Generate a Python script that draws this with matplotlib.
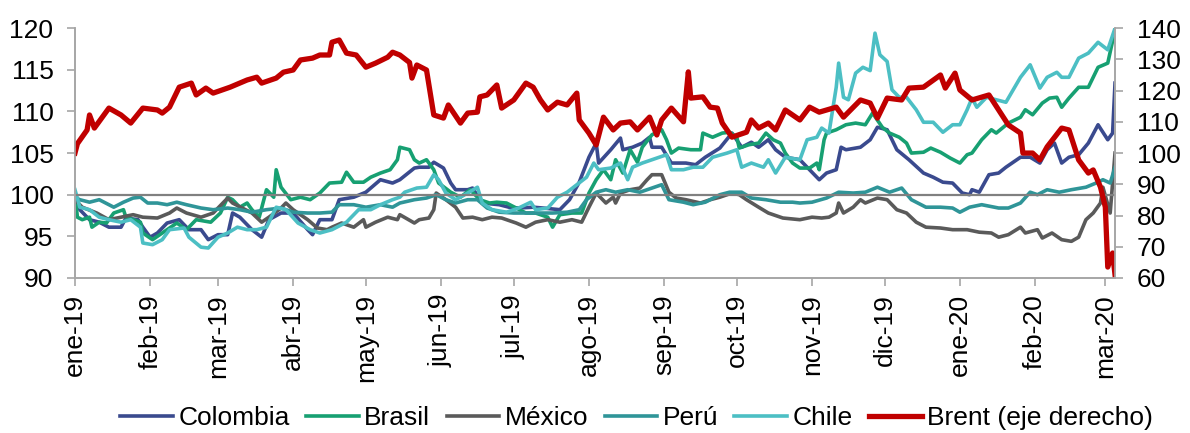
import matplotlib
matplotlib.use("Agg")
import matplotlib.pyplot as plt
import pandas as pd

plt.rcParams["font.family"] = ["Liberation Sans", "DejaVu Sans"]
plt.rcParams["font.size"] = 19

# ----------------------------------------------------------------------
# Data (x = days since 1 Jan 2019).
# Left axis: currencies indexed to 100; right axis: Brent indexed to 100.
# ----------------------------------------------------------------------
START = pd.Timestamp("2019-01-01")

tick_labels = ["ene-19", "feb-19", "mar-19", "abr-19", "may-19", "jun-19", "jul-19",
               "ago-19", "sep-19", "oct-19", "nov-19", "dic-19", "ene-20", "feb-20", "mar-20"]

colombia_d = [0, 2, 6, 10, 14, 19, 21, 26, 28, 31, 34, 38, 43, 47, 52, 55, 59, 63, 65, 68, 73, 77,
              80, 85, 90, 96, 98, 101, 106, 109, 115, 120, 126, 131, 134, 140, 142, 146, 148, 152,
              155, 157, 162, 164, 168, 175, 179, 183, 189, 193, 200, 204, 208, 212, 215, 216, 221,
              225, 226, 230, 234, 237, 238, 242, 246, 252, 256, 260, 266, 271, 275, 279, 282, 286,
              289, 293, 299, 302, 306, 307, 310, 314, 316, 318, 324, 328, 331, 335, 339, 344, 350,
              354, 358, 362, 366, 369, 370, 373, 377, 381, 384, 390, 394, 398, 401, 404, 407, 410,
              414, 418, 422, 426, 428, 429]
colombia = [100, 98.2, 97, 96.7, 96.1, 96.1, 97.2, 97, 96.1, 94.9, 95.4, 96.6, 97, 95.8, 95.8, 94.6,
            95.2, 95.2, 97.8, 97.3, 95.8, 94.9, 97, 97.8, 97.8, 95.8, 95.2, 97, 97, 99.4, 99.7,
            100.3, 101.8, 101.4, 101.8, 103.2, 103.3, 103.3, 103.9, 103.2, 101.4, 100.6, 100.6,
            100.8, 99, 98.8, 98.5, 98.4, 98.5, 98.4, 98.2, 99.4, 101.5, 104.5, 106.2, 103.8, 105.4,
            106.8, 105.4, 105.7, 106.2, 106.9, 105.7, 105.7, 103.8, 103.8, 103.6, 104.5, 105.6,
            107.4, 105.7, 106.3, 105.7, 106.6, 105.4, 104.5, 104.2, 103.3, 102.1, 101.8, 102.6,
            103, 105.7, 105.4, 105.7, 106.6, 108.1, 107.8, 105.4, 104.2, 102.6, 102.1, 101.5,
            101.4, 100.2, 100, 100.6, 100.3, 102.4, 102.6, 103.3, 104.5, 104.5, 103.8, 105.4,
            106.2, 103.8, 104.5, 104.8, 106.2, 108.4, 106.6, 107.4, 113.4]

brasil_d = [0, 1, 3, 6, 7, 10, 13, 16, 20, 21, 27, 28, 32, 36, 42, 46, 50, 56, 60, 63, 65, 68, 71,
            73, 76, 79, 82, 83, 85, 89, 93, 97, 101, 105, 110, 112, 115, 119, 122, 126, 130, 133,
            134, 138, 140, 142, 145, 148, 150, 155, 159, 163, 167, 171, 174, 178, 182, 186, 190,
            195, 197, 200, 205, 209, 212, 215, 218, 221, 223, 226, 229, 232, 234, 238, 242, 244,
            246, 249, 254, 258, 259, 263, 267, 270, 273, 274, 278, 282, 285, 288, 291, 293, 296,
            299, 303, 306, 307, 309, 310, 314, 318, 322, 326, 329, 333, 336, 340, 343, 345, 350,
            353, 357, 361, 365, 368, 370, 374, 378, 380, 385, 390, 392, 395, 399, 402, 405, 407,
            410, 414, 418, 422, 426, 429]
brasil = [100, 97.3, 97, 97.3, 96.1, 96.7, 96.6, 97.8, 98.2, 97.3, 96.7, 95.4, 94.6, 95.4, 96.6,
          95.8, 97, 96.7, 97.8, 99.7, 99.4, 98.5, 99, 98.2, 97.3, 100.6, 99.7, 103, 100.9, 99.4,
          99.7, 99.4, 100.2, 101.4, 101.5, 102.7, 101.5, 101.5, 102.1, 102.6, 103, 104.2, 105.7,
          105.4, 104.2, 103.8, 104.2, 103, 101.4, 100.3, 99.7, 100.6, 99.4, 99, 99.1, 99, 98.4,
          97.8, 97.8, 97.3, 96.1, 97.6, 97.8, 97.8, 100.2, 101.8, 103, 101.8, 104.2, 102.6, 105.4,
          103.9, 105.7, 107.2, 107.8, 106.6, 105, 105.6, 105.4, 105.4, 107.4, 106.9, 107.4, 107.5,
          106.9, 105.6, 106, 106.2, 107.4, 106.6, 106.2, 105, 103.8, 103.2, 103.2, 103.8, 103,
          106.6, 107.4, 107.8, 108.4, 108.6, 108.4, 109.8, 108.1, 107.4, 106.9, 106.2, 105, 105.1,
          105.6, 105.1, 104.4, 103.8, 104.8, 105, 106.6, 107.8, 107.4, 108.6, 109.3, 110.2, 109.6,
          111, 111.6, 111.7, 110.5, 111.6, 112.9, 112.9, 115.3, 115.8, 119.8]

mexico_d = [0, 3, 9, 14, 19, 24, 28, 34, 39, 42, 46, 52, 57, 63, 65, 69, 73, 77, 80, 85, 87, 90, 96,
            100, 104, 106, 110, 115, 119, 120, 124, 129, 133, 134, 140, 142, 146, 148, 149, 153,
            157, 160, 164, 168, 172, 176, 182, 186, 190, 195, 200, 205, 209, 212, 215, 219, 222,
            223, 225, 229, 233, 236, 238, 242, 245, 248, 252, 258, 262, 266, 271, 274, 277, 282,
            286, 292, 299, 304, 308, 311, 314, 315, 317, 321, 324, 326, 331, 335, 339, 343, 347,
            351, 357, 362, 368, 373, 378, 381, 385, 390, 392, 397, 399, 403, 407, 411, 414, 417,
            420, 423, 424, 427, 429]
mexico = [99.4, 98.5, 97.8, 97, 97.3, 97.6, 97.3, 97.2, 97.8, 98.4, 97.8, 97.3, 97.8, 99.6, 99,
          98.4, 97.8, 96.7, 97.3, 98.4, 99, 98.2, 97, 96, 95.8, 96.1, 96.6, 96.1, 97, 96.1, 96.7,
          97.3, 97, 97.6, 96.6, 97, 97.2, 98.2, 100.2, 99.4, 98.5, 97.2, 97.3, 97, 97.3, 97.2,
          96.6, 96.1, 96.7, 97, 96.7, 97, 96.7, 98.5, 100.2, 99, 99.7, 99, 100.2, 100.6, 100.8,
          101.8, 102.4, 102.4, 100.3, 99.6, 99.4, 99, 99.4, 99.7, 100.2, 100, 99.4, 98.5, 97.8,
          97.2, 97, 97.3, 97.2, 97.3, 97.8, 99, 97.8, 98.5, 99.4, 99, 99.6, 99.4, 98.2, 97.8, 96.7,
          96.1, 96, 95.8, 95.8, 95.5, 95.4, 94.9, 95.2, 96.1, 95.4, 95.8, 94.8, 95.4, 94.6, 94.4,
          94.9, 97, 97.8, 99, 100.9, 97.8, 105]

peru_d = [0, 2, 6, 10, 16, 20, 24, 27, 30, 34, 38, 42, 46, 52, 57, 63, 68, 73, 79, 85, 90, 96, 101,
          106, 109, 115, 120, 126, 131, 134, 140, 145, 149, 153, 157, 162, 166, 170, 175, 181, 186,
          192, 197, 203, 208, 211, 215, 219, 223, 228, 233, 238, 242, 245, 251, 255, 260, 266,
          270, 275, 279, 285, 291, 296, 299, 304, 310, 315, 321, 326, 331, 336, 341, 345, 351,
          357, 362, 365, 369, 374, 381, 385, 390, 394, 397, 401, 406, 411, 417, 422, 424, 427, 429]
peru = [99.7, 99.4, 99.1, 99.4, 98.5, 99.1, 99.6, 99.7, 99, 99, 98.8, 99.1, 98.8, 98.4, 98.2, 98.4,
        98.2, 97.9, 98.2, 98.4, 97.9, 97.8, 97.8, 97.9, 98.8, 98.8, 98.5, 98.8, 98.5, 99, 99.4,
        99.6, 100, 99.4, 99, 99.4, 99.4, 98.4, 97.9, 97.8, 97.8, 97.8, 97.8, 97.9, 98.2, 99.4,
        100.3, 100.6, 100.3, 100.6, 100.3, 100.8, 101.2, 99.4, 99.1, 98.8, 99.1, 100, 100.3,
        100.3, 99.6, 99.4, 99.1, 99.1, 99, 99.1, 99.6, 100.3, 100.2, 100.3, 100.9, 100.3, 100.8,
        99.4, 98.5, 98.5, 98.4, 97.9, 98.5, 98.8, 98.4, 98.4, 99, 100.3, 100, 100.6, 100.3, 100.6,
        100.9, 101.5, 101.8, 101.4, 103.3]

chile_d = [0, 2, 6, 10, 14, 19, 23, 27, 28, 32, 36, 39, 45, 47, 52, 55, 59, 63, 67, 71, 75, 79, 83,
           87, 92, 97, 101, 106, 112, 115, 117, 122, 126, 131, 134, 136, 141, 145, 148, 150, 153,
           157, 162, 166, 168, 172, 178, 183, 188, 190, 195, 199, 203, 207, 211, 214, 216, 221,
           225, 228, 230, 234, 238, 244, 246, 251, 255, 259, 263, 269, 273, 275, 279, 284, 286,
           289, 293, 299, 302, 306, 308, 311, 314, 315, 317, 319, 322, 325, 328, 330, 332, 335,
           337, 340, 343, 347, 350, 354, 358, 362, 365, 368, 370, 372, 376, 380, 384, 387, 390,
           394, 398, 401, 405, 407, 410, 414, 418, 422, 426, 429]
chile = [100.6, 98.5, 98.2, 97.3, 97, 96.7, 97, 96.1, 94.2, 94, 94.6, 95.8, 96, 94.9, 93.7, 93.6,
         94.9, 95.4, 96.1, 95.8, 95.8, 96.1, 98.5, 98.2, 96.6, 95.8, 95.4, 95.8, 96.7, 97.6, 98.2,
         98.2, 98.8, 99.4, 99.7, 100.3, 100.8, 100.9, 102.4, 101.8, 100.2, 99.4, 100.2, 100.9, 99,
         98.2, 97.9, 98.4, 99.1, 98.2, 98.4, 99.7, 100.3, 101.2, 102.1, 103.8, 103, 103.2, 103.8,
         101.8, 103.3, 103.8, 104.2, 104.8, 103, 103, 103.3, 103.3, 104.5, 105, 105.4, 103.3,
         103.8, 103.3, 104.2, 102.6, 104.5, 104.2, 106.6, 106.9, 108, 107.4, 112.9, 115.8, 111.7,
         111.4, 114.6, 115.3, 114.9, 119.4, 116.8, 116, 112.6, 111.7, 111.7, 110.2, 108.7, 108.7,
         107.5, 108.4, 108.4, 110.2, 111.6, 110.5, 111.7, 111.4, 111.1, 112.6, 114.1, 115.6,
         112.8, 114.1, 114.7, 114.1, 114.1, 116.4, 117, 118.3, 117.4, 120]

brent_d = [0, 1, 5, 6, 8, 14, 19, 23, 28, 34, 36, 39, 43, 48, 50, 54, 57, 64, 71, 75, 77, 83, 86, 90,
           93, 98, 101, 105, 106, 109, 112, 116, 120, 124, 129, 131, 134, 138, 139, 141, 145, 148,
           152, 154, 159, 162, 166, 167, 170, 174, 176, 181, 186, 189, 192, 195, 199, 203, 207,
           208, 212, 215, 218, 222, 225, 229, 232, 237, 240, 242, 246, 251, 253, 254, 259, 262,
           265, 267, 271, 277, 279, 282, 286, 289, 293, 299, 303, 307, 314, 317, 324, 328, 331,
           335, 341, 344, 350, 357, 359, 363, 365, 370, 377, 381, 385, 390, 391, 395, 398, 401,
           407, 410, 414, 418, 420, 423, 425, 426, 428, 429]
brent = [100, 103, 107.4, 112.2, 108, 114.4, 112.2, 109.6, 114.4, 113.8, 112.8, 114.7, 121.1, 122.4,
         118.6, 120.8, 119.2, 121.1, 123.4, 124.3, 122.4, 124, 125.9, 126.6, 129.8, 130.4, 131.4,
         131.4, 135.5, 136.2, 132, 131.4, 127.5, 128.8, 130.7, 132.3, 131.4, 129, 124, 128.2,
         126.6, 112.2, 111.2, 115.4, 109.6, 112.8, 113.1, 118, 118.6, 121.8, 114.4, 117, 122.4,
         121.1, 117, 113.8, 116.3, 115.4, 119.2, 110.6, 106.4, 102.6, 111.5, 107.4, 109.6, 110,
         107.4, 111.5, 105.8, 110.6, 114.4, 110, 126, 117.6, 118, 114.7, 114.4, 109.6, 105.1,
         106.7, 110.6, 108, 109.6, 107.4, 113.8, 110.6, 114.7, 113.1, 114.7, 111.5, 117, 116,
         111.2, 117.6, 117, 120.8, 121.1, 125, 120.8, 125.6, 120.2, 117, 118.6, 113.8, 109, 106.4,
         100, 100, 97.8, 102, 108, 107.4, 97.8, 93.6, 94.6, 89.1, 82.7, 63.5, 68, 61]


def to_dates(days):
    return START + pd.to_timedelta(days, unit="D")


GRID = "#A6A6A6"

fig = plt.figure(figsize=(11.9, 4.33), dpi=100)
ax = fig.add_axes([0.063, 0.358, 0.874, 0.577])
ax2 = ax.twinx()

series = [
    ("Colombia", colombia_d, colombia, "#3A4A8E"),
    ("Brasil", brasil_d, brasil, "#17A072"),
    ("México", mexico_d, mexico, "#5A5A5A"),
    ("Perú", peru_d, peru, "#2F9598"),
    ("Chile", chile_d, chile, "#4CBFC4"),
]
handles = []
for name, d, v, c in series:
    (h,) = ax.plot(to_dates(d), v, color=c, lw=2.6, label=name, zorder=2,
                   solid_joinstyle="round")
    handles.append(h)

ax.axhline(100, color="#808080", lw=1.6, zorder=3)

(hb,) = ax2.plot(to_dates(brent_d), brent, color="#C00000", lw=3.8,
                 label="Brent (eje derecho)", solid_joinstyle="round")
handles.append(hb)

ax.set_ylim(90, 120)
ax.set_yticks(range(90, 121, 5))
ax2.set_ylim(60, 140)
ax2.set_yticks(range(60, 141, 10))

ticks = pd.date_range("2019-01-01", "2020-03-01", freq="MS")
ax.set_xticks(ticks)
ax.set_xticklabels(tick_labels, rotation=90, va="top", ha="center")
ax.set_xlim(START, to_dates([429])[0])

for a in (ax, ax2):
    a.spines["top"].set_visible(False)
    for s in ("left", "right", "bottom"):
        a.spines[s].set_color(GRID)
        a.spines[s].set_linewidth(1.2)
    a.tick_params(colors=GRID, labelcolor="black", length=5.5, width=1.2, pad=6)
ax.tick_params(axis="y", pad=10)
ax2.tick_params(axis="y", pad=10)

fig.legend(handles=handles, loc="center", bbox_to_anchor=(0.535, 0.035), ncol=6,
           frameon=False, handlelength=2.0, handletextpad=0.2, columnspacing=0.62,
           borderaxespad=0)

fig.savefig("out.png", dpi=100)
